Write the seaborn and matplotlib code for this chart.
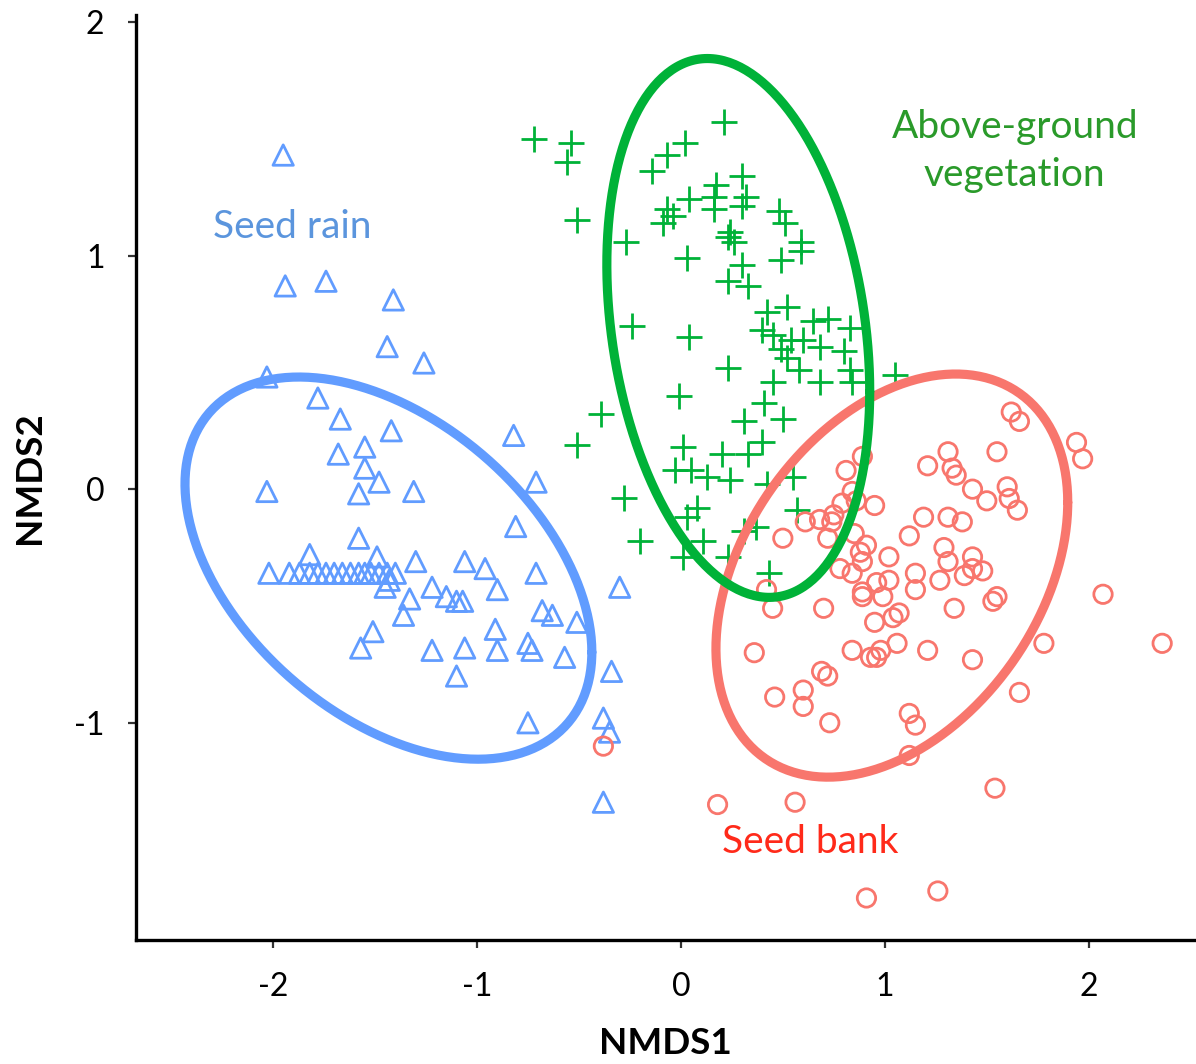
import numpy as np
import pandas as pd
import matplotlib
matplotlib.use("Agg")
import matplotlib.pyplot as plt
import seaborn as sns
from matplotlib import font_manager
from matplotlib.ticker import FixedLocator, FixedFormatter

# ---------------- data ----------------
rain_x = [-1.95, -1.94, -1.74, -1.41, -1.44, -1.26, -2.03, -1.78, -1.67, -1.55,
          -1.42, -1.68, -1.55, -1.48, -1.31, -2.03, -1.58, -1.58, -1.82, -1.49,
          -1.30, -2.02, -1.92, -1.87, -1.82, -1.78, -1.74, -1.70, -1.66, -1.62,
          -1.58, -1.55, -1.52, -1.48, -1.44, -1.40, -1.45, -1.43, -1.33, -1.36,
          -1.22, -1.15, -1.10, -1.51, -1.57, -1.22, -1.10, -0.82, -0.71, -0.81,
          -1.06, -0.96, -0.90, -0.71, -1.07, -0.68, -0.63, -0.51, -0.30, -0.91,
          -0.75, -0.73, -1.06, -0.90, -0.57, -0.34, -0.75, -0.38, -0.35, -0.38]
rain_y = [1.43, 0.87, 0.89, 0.81, 0.61, 0.54, 0.48, 0.39, 0.30, 0.18,
          0.25, 0.15, 0.09, 0.03, -0.01, -0.01, -0.02, -0.21, -0.28, -0.29,
          -0.31, -0.36, -0.36, -0.36, -0.36, -0.36, -0.36, -0.36, -0.36, -0.36,
          -0.36, -0.36, -0.36, -0.36, -0.36, -0.36, -0.42, -0.39, -0.47, -0.54,
          -0.42, -0.46, -0.48, -0.61, -0.68, -0.69, -0.80, 0.23, 0.03, -0.16,
          -0.31, -0.34, -0.43, -0.36, -0.48, -0.52, -0.54, -0.57, -0.42, -0.60,
          -0.66, -0.69, -0.68, -0.69, -0.72, -0.78, -1.00, -0.98, -1.04, -1.34]

veg_x = [-0.72, -0.54, -0.56, -0.51, -0.27, 0.21, 0.02, -0.07, -0.14, 0.30,
         0.17, 0.32, 0.30, 0.04, -0.07, -0.09, -0.04, 0.16, 0.16, 0.24,
         0.26, 0.23, 0.03, 0.48, 0.51, 0.59, 0.59, 0.49, 0.30, 0.23,
         0.33, 0.42, 0.52, 0.40, 0.45, -0.24, 0.04, 0.49, 0.54, 0.60,
         0.65, 0.72, 0.83, 0.80, 0.68, 0.52, 0.58, 0.68, 0.83, 0.45,
         0.23, -0.01, 0.41, 0.84, 1.05, -0.39, -0.51, 0.31, 0.50, 0.01,
         0.40, 0.33, 0.20, -0.03, 0.05, 0.13, 0.24, 0.42, 0.55, -0.28,
         0.08, 0.03, 0.37, 0.57, -0.20, 0.11, 0.01, 0.23, 0.43, 0.31]
veg_y = [1.50, 1.48, 1.40, 1.15, 1.06, 1.57, 1.48, 1.43, 1.36, 1.34,
         1.30, 1.25, 1.21, 1.24, 1.20, 1.14, 1.17, 1.25, 1.20, 1.10,
         1.06, 1.08, 0.99, 1.19, 1.14, 1.06, 1.02, 0.98, 0.96, 0.89,
         0.87, 0.76, 0.78, 0.68, 0.66, 0.70, 0.65, 0.60, 0.64, 0.64,
         0.72, 0.73, 0.69, 0.59, 0.61, 0.56, 0.51, 0.46, 0.51, 0.46,
         0.52, 0.40, 0.37, 0.46, 0.49, 0.32, 0.19, 0.29, 0.30, 0.18,
         0.20, 0.15, 0.15, 0.08, 0.08, 0.05, 0.04, 0.02, 0.05, -0.04,
         -0.08, -0.12, -0.16, -0.09, -0.22, -0.22, -0.29, -0.29, -0.36, -0.18]

bank_x = [0.89, 0.81, 0.84, 0.79, 0.86, 0.95, 0.75, 0.74, 0.68, 0.61,
          0.72, 0.50, 0.85, 0.91, 0.88, 0.89, 1.02, 0.78, 0.84, 0.96,
          1.02, 0.89, 0.89, 0.99, 0.42, 0.45, 0.70, 1.15, 1.15, 1.27,
          1.07, 1.04, 0.95, 1.19, 1.31, 1.29, 1.31, 1.12, 1.21, 1.31,
          1.33, 1.35, 1.34, 1.62, 1.66, 1.55, 1.43, 1.50, 1.60, 1.61,
          1.65, 1.94, 1.97, 1.38, 1.43, 1.39, 1.48, 1.43, 1.55, 1.53,
          2.07, 1.78, 1.21, 1.43, 2.36, 0.36, 0.84, 0.93, 0.98, 0.96,
          1.06, 0.69, 0.72, 0.60, 0.46, 0.60, 0.73, 1.12, 1.15, 1.12,
          1.66, 1.54, 0.18, 0.56, 0.91, 1.26, -0.38]
bank_y = [0.14, 0.08, -0.01, -0.06, -0.05, -0.07, -0.11, -0.14, -0.13, -0.14,
          -0.21, -0.21, -0.19, -0.24, -0.27, -0.31, -0.29, -0.34, -0.36, -0.40,
          -0.39, -0.44, -0.46, -0.46, -0.43, -0.51, -0.51, -0.36, -0.43, -0.39,
          -0.53, -0.55, -0.57, -0.12, -0.12, -0.25, -0.31, -0.20, 0.10, 0.16,
          0.09, 0.06, -0.51, 0.33, 0.29, 0.16, 0.00, -0.05, 0.01, -0.04,
          -0.09, 0.20, 0.13, -0.14, -0.29, -0.37, -0.35, -0.34, -0.46, -0.48,
          -0.45, -0.66, -0.69, -0.73, -0.66, -0.70, -0.69, -0.72, -0.69, -0.72,
          -0.66, -0.78, -0.80, -0.86, -0.89, -0.93, -1.00, -0.96, -1.01, -1.14,
          -0.87, -1.28, -1.35, -1.34, -1.75, -1.72, -1.10]

groups = ["Seed rain", "Above-ground vegetation", "Seed bank"]
point_colors = ["#619CFF", "#00B238", "#F8766D"]
group_markers = ["^", "+", "o"]
label_colors = ["#5B95DD", "#2A9A2A", "#FF2A1A"]

# ellipse centres and shape matrices (stat_ellipse style)
ellipse_centers = [(-1.434, -0.338), (0.2815, 0.69), (1.0345, -0.370)]
ellipse_shapes = [[[0.995, -0.359], [-0.359, 0.669]],
                  [[0.4154, -0.175], [-0.175, 1.33]],
                  [[0.744, 0.27], [0.27, 0.7444]]]

x_ticks = [-2, -1, 0, 1, 2]
x_ticklabels = ["-2", "-1", "0", "1", "2"]
y_ticks = [-1, 0, 1, 2]
y_ticklabels = ["-1", "0", "1", "2"]

# ---------------- fonts ----------------
def have(name):
    try:
        font_manager.findfont(name, fallback_to_default=False)
        return True
    except Exception:
        return False

base_font = "Lato" if have("Lato") else "DejaVu Sans"
label_font = "Liberation Sans Narrow" if have("Liberation Sans Narrow") else base_font

sns.set_theme(style="white")
plt.rcParams["font.family"] = [base_font, "DejaVu Sans"]

fig = plt.figure(figsize=(11.96, 10.64), dpi=100)
ax = fig.add_axes([0.114, 0.1165, 0.885, 0.8695])

frames = []
for g, xs, ys in zip(groups, [rain_x, veg_x, bank_x], [rain_y, veg_y, bank_y]):
    frames.append(pd.DataFrame({"NMDS1": xs, "NMDS2": ys, "group": g}))
df = pd.concat(frames, ignore_index=True)

sizes = {"^": 215, "+": 330, "o": 175}
for g, col, mk in zip(groups, point_colors, group_markers):
    sub = df[df["group"] == g]
    sns.scatterplot(data=sub, x="NMDS1", y="NMDS2", marker=mk, s=sizes[mk],
                    color=col, linewidth=2.0, ax=ax, legend=False, zorder=2)
    coll = ax.collections[-1]
    if mk != "+":
        coll.set_facecolor("none")
    coll.set_edgecolor(col)
    coll.set_linewidth(2.0)

# ellipses
t = np.linspace(0, 2 * np.pi, 300)
circle = np.vstack([np.cos(t), np.sin(t)])
order = [2, 0, 1]
for i in order:
    L = np.linalg.cholesky(np.array(ellipse_shapes[i]))
    pts = L @ circle
    ex = pts[0] + ellipse_centers[i][0]
    ey = pts[1] + ellipse_centers[i][1]
    edf = pd.DataFrame({"x": ex, "y": ey})
    sns.lineplot(data=edf, x="x", y="y", sort=False, estimator=None,
                 color=point_colors[i], linewidth=6.6, ax=ax, zorder=3)

# group labels
ax.text(-1.907, 1.122, "Seed rain", color=label_colors[0], fontsize=28,
        ha="center", va="center", family=[base_font, "DejaVu Sans"])
ax.text(1.637, 1.448, "Above-ground\nvegetation", color=label_colors[1], fontsize=28,
        ha="center", va="center", linespacing=1.42, family=[base_font, "DejaVu Sans"])
ax.text(0.632, -1.512, "Seed bank", color=label_colors[2], fontsize=28,
        ha="center", va="center", family=[base_font, "DejaVu Sans"])

ax.set_xlim(-2.67, 2.52)
ax.set_ylim(-1.93, 2.03)
ax.xaxis.set_major_locator(FixedLocator(x_ticks))
ax.xaxis.set_major_formatter(FixedFormatter(x_ticklabels))
ax.yaxis.set_major_locator(FixedLocator(y_ticks))
ax.yaxis.set_major_formatter(FixedFormatter(y_ticklabels))

for side in ["top", "right"]:
    ax.spines[side].set_visible(False)
for side in ["left", "bottom"]:
    ax.spines[side].set_color("black")
    ax.spines[side].set_linewidth(2.4)

ax.tick_params(axis="both", direction="out", length=6, width=1.6, color="#333333",
               labelsize=23, labelcolor="black", pad=17, bottom=True, left=True)
for lab in ax.get_xticklabels() + ax.get_yticklabels():
    lab.set_family([base_font, "DejaVu Sans"])

ax.set_xlabel("NMDS1", fontsize=26.5, fontweight="bold", family=[label_font, "DejaVu Sans"],
              labelpad=18, color="black")
ax.set_ylabel("NMDS2", fontsize=26.5, fontweight="bold", family=[label_font, "DejaVu Sans"],
              labelpad=20, color="black")
ax.grid(False)

fig.savefig("out.png", dpi=100, facecolor="white")
